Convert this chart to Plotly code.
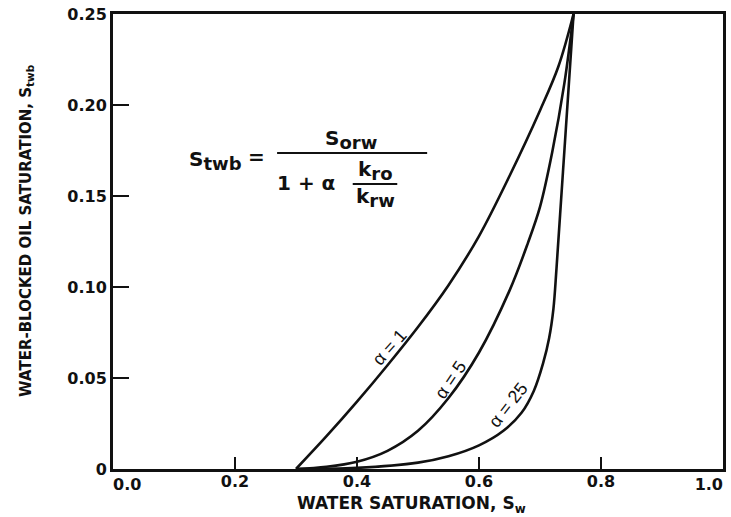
import plotly.graph_objects as go

# Water saturation (Sw) vs water-blocked oil saturation (Stwb) for three alpha values
sw_a1 = [0.300, 0.350, 0.400, 0.450, 0.500, 0.550, 0.600, 0.650, 0.700, 0.730, 0.755]
st_a1 = [0.000, 0.018, 0.037, 0.057, 0.078, 0.101, 0.128, 0.161, 0.197, 0.221, 0.250]

sw_a5 = [0.300, 0.350, 0.400, 0.450, 0.500, 0.550, 0.600, 0.650, 0.680, 0.700, 0.720, 0.740, 0.755]
st_a5 = [0.000, 0.0012, 0.004, 0.010, 0.021, 0.039, 0.064, 0.098, 0.124, 0.144, 0.174, 0.212, 0.250]

sw_a25 = [0.300, 0.400, 0.500, 0.550, 0.600, 0.640, 0.670, 0.690, 0.705, 0.715, 0.722,
          0.727, 0.733, 0.740, 0.747, 0.755]
st_a25 = [0.000, 0.0006, 0.0035, 0.007, 0.013, 0.021, 0.031, 0.043, 0.058, 0.072, 0.088,
          0.110, 0.140, 0.175, 0.210, 0.250]

curve_labels = ["α = 1", "α = 5", "α = 25"]
label_pos_x = [0.454, 0.553, 0.648]
label_pos_y = [0.067, 0.049, 0.035]
label_angles = [-48, -56, -52]

x_ticks = [0.0, 0.2, 0.4, 0.6, 0.8, 1.0]
x_ticktext = ["0.0", "0.2", "0.4", "0.6", "0.8", "1.0"]
y_ticks = [0.0, 0.05, 0.10, 0.15, 0.20, 0.25]
y_ticktext = ["0", "0.05", "0.10", "0.15", "0.20", "0.25"]

INK = "#111111"
SANS = "Liberation Sans"
BOLD = "DejaVu Sans"

fig = go.Figure()
for xs, ys in [(sw_a1, st_a1), (sw_a5, st_a5), (sw_a25, st_a25)]:
    fig.add_trace(go.Scatter(
        x=xs, y=ys, mode="lines",
        line=dict(color=INK, width=2.6, shape="spline", smoothing=1.0),
        showlegend=False, hoverinfo="skip",
    ))

annotations = []
for txt, lx, ly, ang in zip(curve_labels, label_pos_x, label_pos_y, label_angles):
    annotations.append(dict(
        x=lx, y=ly, xref="x", yref="y", text=txt, showarrow=False,
        xanchor="center", yanchor="middle",
        textangle=ang, font=dict(family=SANS, size=18, color=INK),
    ))


def sub(s, size=18):
    return '<sub><span style="font-size:%dpx">%s</span></sub>' % (size, s)


# Formula: Stwb = Sorw / (1 + α kro/krw)
ffont = dict(family=BOLD, size=20, color=INK, weight="bold")
formula_parts = [
    (0.168, 0.1695, "S" + sub("twb")),
    (0.236, 0.1712, "="),
    (0.390, 0.1810, "S" + sub("orw")),
    (0.316, 0.1570, "1 + α"),
    (0.431, 0.1640, "k" + sub("ro")),
    (0.431, 0.1490, "k" + sub("rw")),
]
for fx, fy, ft in formula_parts:
    annotations.append(dict(x=fx, y=fy, xref="x", yref="y", text=ft,
                            xanchor="center", yanchor="middle",
                            showarrow=False, font=ffont))

# Axis titles
annotations.append(dict(
    x=0.489, y=-0.079, xref="paper", yref="paper",
    xanchor="center", yanchor="middle",
    text="WATER SATURATION, S<sub>w</sub>", showarrow=False,
    font=dict(family=BOLD, size=17, color=INK, weight="bold"),
))
annotations.append(dict(
    x=-0.143, y=0.525, xref="paper", yref="paper", textangle=-90,
    xanchor="center", yanchor="middle",
    text="WATER-BLOCKED OIL SATURATION, S<sub>twb</sub>", showarrow=False,
    font=dict(family=BOLD, size=15, color=INK, weight="bold"),
))

shapes = [
    dict(type="line", xref="x", yref="y", x0=0.269, x1=0.515, y0=0.1736, y1=0.1736,
         line=dict(color=INK, width=2)),
    dict(type="line", xref="x", yref="y", x0=0.393, x1=0.466, y0=0.1566, y1=0.1566,
         line=dict(color=INK, width=2)),
]

tickfont = dict(family=BOLD, size=16, color=INK, weight="bold")

fig.update_layout(
    width=731, height=517,
    margin=dict(l=113, r=8, t=14, b=48),
    paper_bgcolor="white", plot_bgcolor="white",
    annotations=annotations, shapes=shapes,
    font=dict(family=SANS, color=INK),
    # inner x ticks on the main axis; the two end labels sit on overlay axes
    # so they can be aligned inward against the frame
    xaxis=dict(
        range=[0, 1], tickvals=x_ticks[1:-1], ticktext=x_ticktext[1:-1],
        showgrid=False, zeroline=False, automargin=False,
        showline=True, linecolor=INK, linewidth=3, mirror=True,
        ticks="inside", ticklen=12, tickwidth=2, tickcolor=INK,
        ticklabelstandoff=-4, tickfont=tickfont,
    ),
    xaxis2=dict(
        range=[0, 1], overlaying="x", anchor="y", side="bottom",
        tickvals=x_ticks[-1:], ticktext=x_ticktext[-1:],
        ticklabelposition="outside left", ticks="",
        showgrid=False, zeroline=False, showline=False, automargin=False,
        ticklabelstandoff=4, tickfont=tickfont,
    ),
    xaxis3=dict(
        range=[0, 1], overlaying="x", anchor="y", side="bottom",
        tickvals=x_ticks[:1], ticktext=x_ticktext[:1],
        ticklabelposition="outside right", ticks="",
        showgrid=False, zeroline=False, showline=False, automargin=False,
        ticklabelstandoff=4, tickfont=tickfont,
    ),
    yaxis=dict(
        range=[0, 0.25], tickvals=y_ticks, ticktext=y_ticktext,
        showgrid=False, zeroline=False, automargin=False,
        showline=True, linecolor=INK, linewidth=3, mirror=True,
        ticks="inside", ticklen=16, tickwidth=2, tickcolor=INK,
        tickfont=tickfont,
    ),
)
# invisible anchors so the overlay axes are drawn
for ax in ("x2", "x3"):
    fig.add_trace(go.Scatter(x=[None], y=[None], xaxis=ax, yaxis="y",
                             showlegend=False, hoverinfo="skip"))

fig.write_html("out.html")
